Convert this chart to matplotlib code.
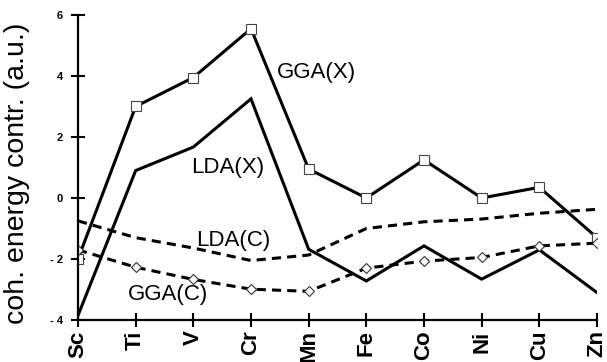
import matplotlib
matplotlib.use("Agg")
import matplotlib.pyplot as plt

plt.rcParams['font.family'] = ['Liberation Sans', 'DejaVu Sans']

elements = ["Sc", "Ti", "V", "Cr", "Mn", "Fe", "Co", "Ni", "Cu", "Zn"]
gga_x = [-2.0, 3.0, 3.95, 5.55, 0.95, 0.0, 1.25, 0.0, 0.35, -1.3]
lda_x = [-3.85, 0.9, 1.67, 3.25, -1.68, -2.72, -1.57, -2.66, -1.7, -3.1]
lda_c = [-0.75, -1.3, -1.64, -2.05, -1.87, -1.0, -0.78, -0.69, -0.5, -0.37]
gga_c = [-1.7, -2.27, -2.67, -2.99, -3.06, -2.3, -2.07, -1.95, -1.57, -1.48]
ytick_vals = [-4, -2, 0, 2, 4, 6]
ytick_labels = ["- 4", "- 2", "0", "2", "4", "6"]

fig = plt.figure(figsize=(6.07, 3.62), dpi=100)
ax = fig.add_axes([0.1285, 0.116, 0.855, 0.8426])
x = range(len(elements))

lw = 2.2
dash = (0, (3.0, 2.0))
ax.plot(x, lda_x, color="black", lw=lw, solid_joinstyle="miter")
ax.plot(x, gga_x, color="black", lw=lw, marker="s", ms=7, mfc="white",
        mec="#444444", mew=0.8, solid_joinstyle="miter")
ax.plot(x, lda_c, color="black", lw=lw, linestyle=dash)
ax.plot(x, gga_c, color="black", lw=lw, linestyle=dash, marker="D", ms=5,
        mfc="white", mec="#333333", mew=0.8)

ax.text(4.13, 4.1, "GGA(X)", fontsize=16, ha="center", va="center")
ax.text(2.6, 1.0, "LDA(X)", fontsize=16, ha="center", va="center")
ax.text(2.7, -1.38, "LDA(C)", fontsize=16, ha="center", va="center")
ax.text(1.56, -3.18, "GGA(C)", fontsize=16, ha="center", va="center")

ax.set_xlim(0, 9)
ax.set_ylim(-4, 6)
ax.set_xticks(list(x))
ax.set_xticklabels(elements, rotation=90, fontsize=16, fontweight="bold")
ax.set_yticks(ytick_vals)
ax.set_yticklabels(ytick_labels, fontsize=8, fontweight="bold")
ax.tick_params(direction="inout", length=10, width=1.5)
ax.tick_params(axis="x", pad=2.5)
ax.tick_params(axis="y", pad=6)

for side in ["top", "right"]:
    ax.spines[side].set_visible(False)
for side in ["left", "bottom"]:
    ax.spines[side].set_linewidth(1.6)

ax.set_ylabel("coh. energy contr. (a.u.)", fontsize=20.5)
ax.yaxis.set_label_coords(-0.092, 0.48)

fig.savefig("out.png", dpi=100)
